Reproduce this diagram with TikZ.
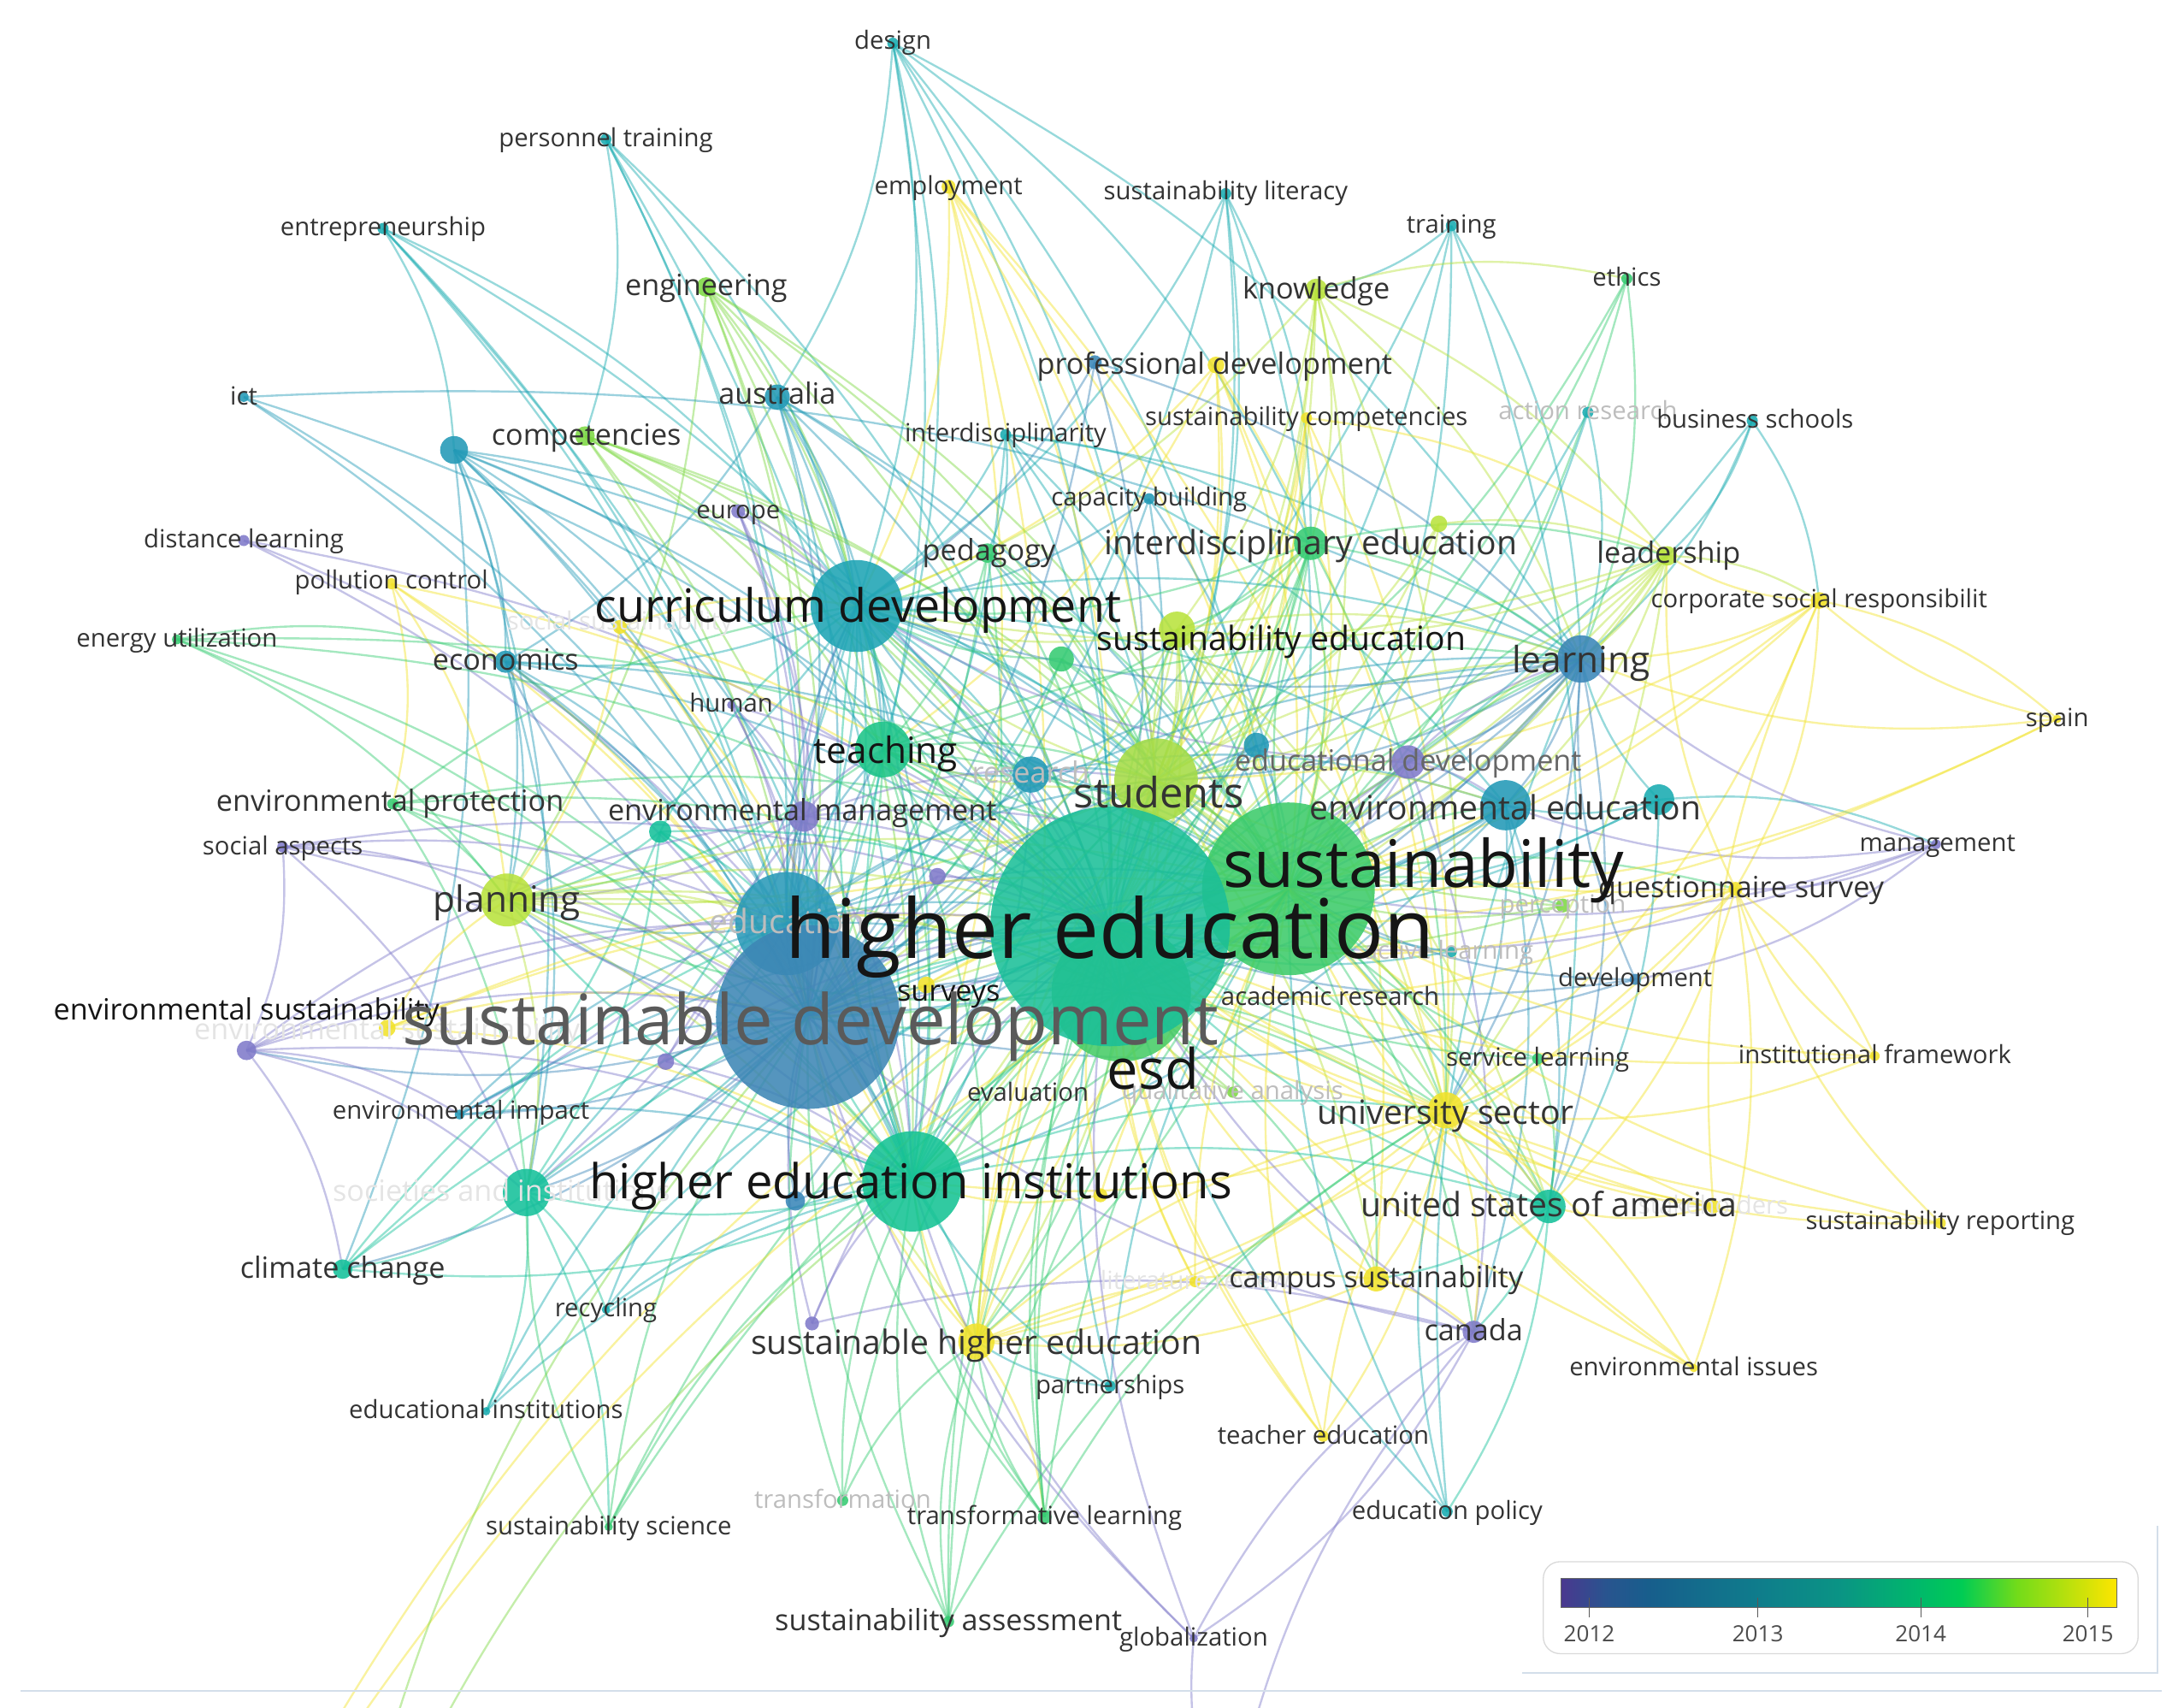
\documentclass[tikz,border=0pt]{standalone}
\usepackage{fontspec}
\setmainfont{Open Sans}
\definecolor{cP}{HTML}{7F7AC9}
\definecolor{cB}{HTML}{3A86B8}
\definecolor{cTB}{HTML}{2299B6}
\definecolor{cT}{HTML}{18ABB0}
\definecolor{cTG}{HTML}{14C09A}
\definecolor{cG}{HTML}{36CB72}
\definecolor{cLG}{HTML}{7DD843}
\definecolor{cYG}{HTML}{B8E23C}
\definecolor{cY}{HTML}{F1E22B}
\definecolor{nTeach}{HTML}{1CC488}
\definecolor{nStu}{HTML}{A5DC46}
\definecolor{nCur}{HTML}{1EA4B4}
\definecolor{nHei}{HTML}{14C394}
\definecolor{nEdu}{HTML}{2A9AB8}
\definecolor{nSd}{HTML}{3D86B5}
\definecolor{nEsd}{HTML}{47CC66}
\definecolor{nSus}{HTML}{3CCB6A}
\definecolor{nHe}{HTML}{1BBF98}
\definecolor{tk}{HTML}{151515}
\definecolor{tD}{HTML}{333333}
\definecolor{tM}{HTML}{666666}
\definecolor{tSD}{HTML}{5A5A5A}
\definecolor{tF}{HTML}{BDBDBD}
\definecolor{tVF}{HTML}{E4E4E4}
\definecolor{frameln}{HTML}{D3DEEA}
\pgfdeclarehorizontalshading{viridisbar}{100bp}{%
rgb(0bp)=(0.29,0.22,0.56);
rgb(25bp)=(0.29,0.22,0.56);
rgb(29bp)=(0.16,0.33,0.56);
rgb(33bp)=(0.09,0.37,0.55);
rgb(42bp)=(0.06,0.48,0.55);
rgb(50bp)=(0.04,0.58,0.52);
rgb(57bp)=(0.0,0.72,0.42);
rgb(61bp)=(0.0,0.80,0.33);
rgb(66bp)=(0.45,0.86,0.10);
rgb(75bp)=(1.0,0.90,0.0);
rgb(100bp)=(1.0,0.90,0.0)}
\newcommand\cn[3]{\foreach \tg in {#3}{\draw[lnk,draw=#2] (#1) to (\tg);}}
\newcommand\kd[3]{\node[circle,inner sep=0pt,minimum size=#3pt,fill=#2,fill opacity=0.88] (#1c) at (#1) {};}
\newcommand\lbl[5]{\node[inner sep=0pt,anchor=base,text=#4,font=\fontsize{#3}{#3}\selectfont,yshift={-0.3*#3pt}] (#1) at (#2) {#5};}
\begin{document}
\begin{tikzpicture}[x=1pt,y=-1pt,lnk/.style={line width=1.45pt,draw opacity=0.45,bend left=14}]
\useasboundingbox (0,0) rectangle (1568,1226);
\clip (0,0) rectangle (1568,1226);
% coordinates
\coordinate (design) at (641,31);
\coordinate (personnel) at (435,100);
\coordinate (employ) at (681,134);
\coordinate (sustlit) at (880,139);
\coordinate (training) at (1042,162);
\coordinate (entrep) at (275,164);
\coordinate (eng) at (507,206);
\coordinate (know) at (945,208);
\coordinate (ethics) at (1168,200);
\coordinate (profdev) at (873,262);
\coordinate (bl786) at (786,260);
\coordinate (ict) at (175,285);
\coordinate (austr) at (558,285);
\coordinate (comp) at (420,313);
\coordinate (un1) at (326,323);
\coordinate (interdisc) at (722,312);
\coordinate (sustcomp) at (938,300);
\coordinate (actres) at (1140,296);
\coordinate (busi) at (1258,302);
\coordinate (capac) at (825,358);
\coordinate (europe) at (530,367);
\coordinate (distance) at (175,388);
\coordinate (pollu) at (281,419);
\coordinate (ped) at (709,397);
\coordinate (interedu) at (941,390);
\coordinate (un2) at (1033,376);
\coordinate (lead) at (1197,399);
\coordinate (csr) at (1306,431);
\coordinate (cur) at (615,435);
\coordinate (energy) at (127,459);
\coordinate (econ) at (363,475);
\coordinate (socx) at (445,450);
\coordinate (susedu) at (845,452);
\coordinate (g762) at (762,473);
\coordinate (human) at (525,506);
\coordinate (learn) at (1135,473);
\coordinate (teach) at (634,538);
\coordinate (res) at (740,556);
\coordinate (educdev) at (1011,547);
\coordinate (stu) at (830,560);
\coordinate (envedu) at (1081,578);
\coordinate (t1191) at (1191,574);
\coordinate (tb902) at (902,535);
\coordinate (envprot) at (282,577);
\coordinate (envm) at (577,586);
\coordinate (tg474) at (474,597);
\coordinate (socasp) at (203,608);
\coordinate (plan) at (364,646);
\coordinate (mgmt) at (1390,606);
\coordinate (sus) at (925,638);
\coordinate (quest) at (1246,638);
\coordinate (percep) at (1122,650);
\coordinate (edu) at (565,663);
\coordinate (p673) at (673,629);
\coordinate (actl) at (1042,683);
\coordinate (devel) at (1174,703);
\coordinate (esd) at (805,712);
\coordinate (he) at (797,665);
\coordinate (sd) at (580,730);
\coordinate (surveys) at (665,707);
\coordinate (envsy) at (278,738);
\coordinate (p177) at (177,754);
\coordinate (p478) at (478,762);
\coordinate (qual) at (885,784);
\coordinate (envimp) at (330,800);
\coordinate (univ) at (1038,797);
\coordinate (servl) at (1104,760);
\coordinate (instf) at (1346,758);
\coordinate (hei) at (655,848);
\coordinate (soc) at (378,856);
\coordinate (b571) at (571,862);
\coordinate (p583) at (583,950);
\coordinate (y790) at (790,858);
\coordinate (usa) at (1112,866);
\coordinate (stake) at (1230,866);
\coordinate (susrep) at (1393,878);
\coordinate (climate) at (246,911);
\coordinate (campus) at (988,918);
\coordinate (litrev) at (858,920);
\coordinate (recyc) at (435,940);
\coordinate (canada) at (1058,956);
\coordinate (shed) at (701,963);
\coordinate (partn) at (797,995);
\coordinate (envis) at (1216,982);
\coordinate (eduinst) at (349,1013);
\coordinate (teached) at (950,1031);
\coordinate (edupol) at (1039,1085);
\coordinate (transfn) at (605,1077);
\coordinate (transfv) at (750,1089);
\coordinate (sussci) at (437,1096);
\coordinate (susass) at (681,1164);
\coordinate (glob) at (857,1176);
\coordinate (spain) at (1477,516);
\coordinate (offa) at (150,1400);
\coordinate (offb) at (240,1400);
\coordinate (offc) at (880,1320);
% edges
\cn{design}{cT}{he,sd,cur,austr,teach,stu,sus,interedu,learn}
\cn{personnel}{cT}{he,sd,cur,edu,hei,comp}
\cn{employ}{cY}{he,sus,stu,cur,hei,shed,univ}
\cn{sustlit}{cT}{he,sus,stu,cur,interedu,sd}
\cn{training}{cT}{he,sus,sd,learn,usa,know}
\cn{entrep}{cT}{he,sd,cur,edu,un1,hei}
\cn{eng}{cLG}{he,sd,sus,cur,stu,teach,hei,edu,plan}
\cn{know}{cYG}{he,sus,stu,susedu,interedu,learn,lead,univ,cur,esd,ethics}
\cn{ethics}{cG}{he,sus,learn,stu}
\cn{profdev}{cY}{he,sus,stu,cur,teach,univ,campus}
\cn{bl786}{cB}{he,sd,cur,learn}
\cn{ict}{cTB}{sd,he,edu,learn}
\cn{austr}{cTB}{he,sd,cur,edu,teach,hei,stu,sus,econ}
\cn{comp}{cLG}{he,sd,sus,cur,teach,stu,esd,hei}
\cn{un1}{cTB}{he,sd,cur,edu,econ,plan,hei,teach,envm,soc,sus,climate}
\cn{interdisc}{cT}{he,sd,sus,cur,stu,interedu,ped,learn,envedu}
\cn{sustcomp}{cY}{he,sus,esd,stu,univ,lead}
\cn{actres}{cT}{he,sus,learn}
\cn{busi}{cT}{lead,csr,learn,he}
\cn{capac}{cTB}{he,sd,sus,cur}
\cn{europe}{cP}{he,sd,cur,edu,envm}
\cn{distance}{cP}{sd,he,edu}
\cn{pollu}{cY}{sd,he,plan,hei,envprot}
\cn{ped}{cG}{he,sd,sus,cur,teach,stu,hei}
\cn{interedu}{cG}{he,sd,sus,cur,stu,teach,learn,esd,univ,hei,susedu,lead}
\cn{un2}{cYG}{he,sus,stu,lead}
\cn{lead}{cYG}{he,sus,stu,csr,envedu,univ,esd,sd,cur,susedu,learn}
\cn{csr}{cY}{he,sus,lead,univ,stu,quest,learn,spain}
\cn{cur}{cT}{he,sd,sus,edu,teach,stu,hei,plan,econ,learn,res,envedu,esd,usa,soc}
\cn{energy}{cG}{sd,he,econ,hei,plan,sus}
\cn{econ}{cTB}{he,sd,edu,plan,hei,soc,sus}
\cn{socx}{cY}{sd,he,cur,hei,plan}
\cn{susedu}{cYG}{he,sus,stu,esd,sd,cur,learn,univ,hei,usa}
\cn{g762}{cG}{he,sus,stu,cur,sd}
\cn{human}{cP}{sd,he,edu,envm}
\cn{learn}{cB}{he,sd,sus,stu,envedu,esd,usa,univ,educdev,cur}
\cn{teach}{cG}{he,sd,sus,stu,hei,esd,edu,plan,learn,univ,shed}
\cn{res}{cTB}{he,sd,sus,stu,hei,teach,cur,edu,envedu,learn}
\cn{educdev}{cP}{he,sd,sus,learn,envedu,canada,cur}
\cn{stu}{cYG}{he,sd,sus,esd,hei,univ,usa,envedu,learn,shed,campus,teach,cur,plan,interedu,susedu}
\cn{envedu}{cTB}{he,sd,sus,usa,esd,univ,canada,hei}
\cn{t1191}{cT}{he,sus,learn,envedu,usa,mgmt}
\cn{tb902}{cTB}{he,sd,sus,stu}
\cn{envprot}{cG}{he,sd,plan,hei,soc,cur,sus}
\cn{envm}{cP}{he,sd,edu,hei,soc,plan,envimp,cur,teach,stu,sus}
\cn{tg474}{cTG}{he,sd,hei,cur,plan,edu,soc,climate}
\cn{socasp}{cP}{sd,he,edu,plan,p177,soc,hei}
\cn{plan}{cYG}{he,sd,sus,hei,soc,edu,esd,univ,shed}
\cn{mgmt}{cP}{he,sus,learn,devel,envedu,quest}
\cn{sus}{cG}{he,sd,esd,hei,univ,usa,campus,shed,quest,percep,canada,cur,stu,teach,learn,envedu,interedu,lead,susedu}
\cn{quest}{cY}{he,univ,usa,lead,stu,esd,shed,envis,instf}
\cn{percep}{cLG}{he,sus,stu}
\cn{edu}{cTB}{he,sd,hei,teach,plan,soc,cur,stu,sus,esd,learn,envm}
\cn{p673}{cP}{he,sd,edu}
\cn{actl}{cT}{he,sus}
\cn{devel}{cB}{he,sus,sd,learn}
\cn{esd}{cG}{he,sd,hei,univ,usa,shed,campus,cur,teach,stu,learn,susedu,plan}
\cn{sd}{cB}{he,hei,soc,climate,envimp,p177,cur,edu,teach,stu,sus,esd,learn,plan,econ,envm}
\cn{surveys}{cY}{he,sd,sus}
\cn{envsy}{cY}{sd,he,hei,plan,sus}
\cn{p177}{cP}{sd,he,hei,soc,envimp,edu,climate,envm}
\cn{p478}{cP}{sd,he,hei,edu}
\cn{qual}{cLG}{he,sus,esd}
\cn{envimp}{cTB}{sd,he,hei,edu}
\cn{univ}{cY}{he,esd,hei,usa,campus,shed,canada,teached,envis}
\cn{servl}{cG}{he,sus,usa,univ}
\cn{instf}{cY}{he,sus,univ,quest}
\cn{hei}{cTG}{he,shed,soc,climate,univ,usa,cur,teach,stu,edu,esd,sus,plan}
\cn{soc}{cTG}{he,climate,eduinst,recyc,sussci}
\cn{b571}{cB}{sd,he,hei}
\cn{p583}{cP}{sd,he,hei,canada}
\cn{y790}{cY}{he,sus,hei}
\cn{usa}{cTG}{he,campus,edupol,canada}
\cn{stake}{cY}{he,sus,univ,usa,csr}
\cn{susrep}{cY}{he,sus,univ,quest}
\cn{climate}{cTG}{he,edu}
\cn{campus}{cY}{he,shed,canada}
\cn{litrev}{cY}{he,sus,esd,shed}
\cn{recyc}{cT}{sd,he,hei}
\cn{canada}{cP}{he,sd,glob}
\cn{shed}{cY}{he,sus,esd,hei,sd,stu,univ,campus,transfv}
\cn{partn}{cT}{he,sus,shed,hei}
\cn{envis}{cY}{he,sus,univ}
\cn{eduinst}{cT}{sd,he,hei}
\cn{teached}{cY}{he,sus,esd,univ}
\cn{edupol}{cT}{he,sus,univ,learn}
\cn{transfn}{cG}{he,sd,hei,shed}
\cn{transfv}{cG}{he,sus,esd,hei,shed,sd,stu,univ}
\cn{sussci}{cG}{he,sd,hei,soc,sus}
\cn{susass}{cG}{he,sus,esd,hei,shed,sd,univ}
\cn{glob}{cP}{he,sd,canada,hei}
\cn{spain}{cY}{he,sus,csr,learn}
\cn{offa}{cY}{he,sus}
\cn{offb}{cLG}{sd,hei}
\cn{offc}{cP}{glob,canada}
% small dots
\kd{design}{cT}{8}\kd{personnel}{cT}{8}\kd{employ}{cY}{10}\kd{sustlit}{cT}{8}
\kd{training}{cT}{8}\kd{entrep}{cT}{8}\kd{eng}{cLG}{14}\kd{know}{cYG}{16}
\kd{ethics}{cG}{8}\kd{profdev}{cY}{12}\kd{bl786}{cB}{10}\kd{ict}{cTB}{7}
\kd{austr}{cTB}{18}\kd{comp}{cLG}{14}\kd{un1}{cTB}{20}\kd{interdisc}{cT}{8}
\kd{sustcomp}{cY}{8}\kd{actres}{cT}{8}\kd{busi}{cT}{8}\kd{capac}{cTB}{8}
\kd{europe}{cP}{10}\kd{distance}{cP}{8}\kd{pollu}{cY}{8}\kd{ped}{cG}{14}
\kd{interedu}{cG}{24}\kd{un2}{cYG}{12}\kd{lead}{cYG}{14}\kd{csr}{cY}{12}
\kd{energy}{cG}{7}\kd{econ}{cTB}{16}\kd{socx}{cY}{10}\kd{susedu}{cYG}{26}
\kd{g762}{cG}{18}\kd{human}{cP}{6}\kd{learn}{cB}{34}\kd{educdev}{cP}{24}
\kd{envedu}{cTB}{36}\kd{t1191}{cT}{22}\kd{tb902}{cTB}{18}\kd{envprot}{cG}{8}
\kd{envm}{cP}{22}\kd{tg474}{cTG}{16}\kd{socasp}{cP}{8}\kd{plan}{cYG}{38}
\kd{mgmt}{cP}{7}\kd{quest}{cY}{10}\kd{percep}{cLG}{10}\kd{p673}{cP}{12}
\kd{actl}{cT}{8}\kd{devel}{cB}{8}\kd{surveys}{cY}{12}\kd{envsy}{cY}{12}
\kd{p177}{cP}{14}\kd{p478}{cP}{12}\kd{qual}{cLG}{8}\kd{envimp}{cTB}{7}
\kd{univ}{cY}{26}\kd{servl}{cG}{8}\kd{instf}{cY}{7}\kd{soc}{cTG}{34}
\kd{b571}{cB}{14}\kd{p583}{cP}{10}\kd{y790}{cY}{10}\kd{usa}{cTG}{24}
\kd{stake}{cY}{10}\kd{susrep}{cY}{8}\kd{climate}{cTG}{14}\kd{campus}{cY}{18}
\kd{litrev}{cY}{8}\kd{recyc}{cT}{6}\kd{canada}{cP}{16}\kd{shed}{cY}{26}
\kd{partn}{cT}{8}\kd{envis}{cY}{6}\kd{eduinst}{cT}{6}\kd{teached}{cY}{8}
\kd{edupol}{cT}{8}\kd{transfn}{cG}{8}\kd{transfv}{cG}{10}\kd{sussci}{cG}{6}
\kd{susass}{cG}{8}\kd{glob}{cP}{6}\kd{spain}{cY}{6}
% big dots
\kd{res}{cTB}{26}
\kd{teach}{nTeach}{40}
\kd{stu}{nStu}{60}
\kd{cur}{nCur}{66}
\kd{hei}{nHei}{72}
\kd{edu}{nEdu}{74}
\kd{sd}{nSd}{132}
\kd{esd}{nEsd}{100}
\kd{sus}{nSus}{124}
\kd{he}{nHe}{172}
% faded labels
\lbl{socxl}{445,447}{18}{tVF}{social sustainability}
\lbl{stakel}{1230,866}{18}{tVF}{stakeholders}
\lbl{litrevl}{858,920}{18}{tVF}{literature review}
\lbl{socl}{360,856}{21}{tVF}{societies and institutions}
\lbl{envsyl}{278,740}{21}{tVF}{environmental sustainability}
\lbl{edul}{565,663}{24}{tF}{education}
\lbl{actresl}{1140,296}{18}{tF}{action research}
\lbl{percepl}{1122,650}{18}{tF}{perception}
\lbl{actll}{1040,683}{18}{tF}{active learning}
\lbl{quall}{885,784}{18}{tF}{qualitative analysis}
\lbl{transfnl}{605,1077}{18}{tF}{transformation}
\lbl{resl}{740,556}{21}{tF}{research}
% small labels
\lbl{designl}{641,30}{18}{tD}{design}
\lbl{personnell}{435,100}{18}{tD}{personnel training}
\lbl{employl}{681,134}{18}{tD}{employment}
\lbl{sustlitl}{880,138}{18}{tD}{sustainability literacy}
\lbl{trainingl}{1042,162}{18}{tD}{training}
\lbl{entrepl}{275,164}{18}{tD}{entrepreneurship}
\lbl{ethicsl}{1168,200}{18}{tD}{ethics}
\lbl{ictl}{175,285}{18}{tD}{ict}
\lbl{interdiscl}{722,312}{18}{tD}{interdisciplinarity}
\lbl{sustcompl}{938,300}{18}{tD}{sustainability competencies}
\lbl{busil}{1260,302}{18}{tD}{business schools}
\lbl{capacl}{825,358}{18}{tD}{capacity building}
\lbl{europel}{530,367}{18}{tD}{europe}
\lbl{distancel}{175,388}{18}{tD}{distance learning}
\lbl{pollul}{281,417}{18}{tD}{pollution control}
\lbl{csrl}{1306,431}{18}{tD}{corporate social responsibilit}
\lbl{energyl}{127,459}{18}{tD}{energy utilization}
\lbl{humanl}{525,506}{18}{tD}{human}
\lbl{spainl}{1477,516}{18}{tD}{spain}
\lbl{socaspl}{203,608}{18}{tD}{social aspects}
\lbl{mgmtl}{1391,606}{18}{tD}{management}
\lbl{devell}{1174,703}{18}{tD}{development}
\lbl{acadl}{955,716}{18}{tD}{academic research}
\lbl{instfl}{1346,758}{18}{tD}{institutional framework}
\lbl{servll}{1104,760}{18}{tD}{service learning}
\lbl{evall}{738,785}{18}{tD}{evaluation}
\lbl{envimpl}{331,798}{18}{tD}{environmental impact}
\lbl{susrepl}{1393,877}{18}{tD}{sustainability reporting}
\lbl{recycl}{435,940}{18}{tD}{recycling}
\lbl{envisl}{1216,982}{18}{tD}{environmental issues}
\lbl{partnl}{797,995}{18}{tD}{partnerships}
\lbl{eduinstl}{349,1013}{18}{tD}{educational institutions}
\lbl{teachedl}{950,1031}{18}{tD}{teacher education}
\lbl{edupoll}{1039,1085}{18}{tD}{education policy}
\lbl{transfvl}{750,1089}{18}{tD}{transformative learning}
\lbl{susscil}{437,1096}{18}{tD}{sustainability science}
\lbl{globl}{857,1176}{18}{tD}{globalization}
% medium labels
\lbl{compl}{421,313}{21}{tD}{competencies}
\lbl{austrl}{558,284}{21}{tD}{australia}
\lbl{engl}{507,206}{21}{tD}{engineering}
\lbl{knowl}{945,208}{21}{tD}{knowledge}
\lbl{profdevl}{872,262}{21}{tD}{professional development}
\lbl{pedl}{710,396}{21}{tD}{pedagogy}
\lbl{leadl}{1198,398}{21}{tD}{leadership}
\lbl{econl}{363,475}{21}{tD}{economics}
\lbl{envprotl}{280,576}{21}{tD}{environmental protection}
\lbl{envml}{576,583}{21}{tD}{environmental management}
\lbl{educdevl}{1011,547}{21}{tM}{educational development}
\lbl{questl}{1250,638}{21}{tD}{questionnaire survey}
\lbl{p177l}{177,726}{21}{tk}{environmental sustainability}
\lbl{climatel}{246,911}{21}{tD}{climate change}
\lbl{campusl}{988,918}{21}{tD}{campus sustainability}
\lbl{canadal}{1058,956}{21}{tD}{canada}
\lbl{susassl}{681,1164}{21}{tD}{sustainability assessment}
\lbl{surveysl}{681,712}{21}{tk}{surveys}
% large labels
\lbl{envedul}{1081,581}{24}{tD}{environmental education}
\lbl{univl}{1038,800}{24}{tD}{university sector}
\lbl{shedl}{701,965}{24}{tD}{sustainable higher education}
\lbl{interedul}{941,391}{24}{tD}{interdisciplinary education}
\lbl{susedul}{920,460}{24}{tk}{sustainability education}
\lbl{usal}{1112,866}{24}{tD}{united states of america}
\lbl{teachl}{636,540}{26}{tk}{teaching}
\lbl{planl}{364,647}{26}{tD}{planning}
\lbl{learnl}{1135,475}{26}{tD}{learning}
\lbl{stul}{832,571}{30}{tD}{students}
\lbl{curl}{616,437}{33}{tk}{curriculum development}
\lbl{heil}{654,850}{34.5}{tk}{higher education institutions}
\lbl{esdl}{828,770}{40}{tk}{esd}
\lbl{susl}{1022,623}{47}{tk}{sustainability}
\lbl{sdl}{582,735}{50}{tSD}{sustainable development}
\lbl{hel}{797,670}{59}{tk}{higher education}
% legend
\draw[frameln,line width=1.2pt] (15,1214) -- (1552,1214);
\draw[frameln,line width=1pt] (1093,1201) -- (1549,1201) -- (1549,1095);
\node[draw=black!15,line width=0.8pt,rounded corners=12pt,minimum width=427pt,minimum height=66pt,inner sep=0pt,fill=white] (cbframe) at (1321.5,1154) {};
\node[shade,shading=viridisbar,draw=black!60,line width=0.6pt,minimum width=399pt,minimum height=21pt,inner sep=0pt] (cbar) at (1320.5,1143.5) {};
\foreach \xx/\yr in {1141/2012,1262/2013,1379/2014,1499/2015}{
  \draw[black!65,line width=0.7pt] (\xx,1147) -- (\xx,1161);
  \node[text=black!70,font=\fontsize{16}{16}\selectfont,inner sep=0pt] (yr\yr) at (\xx,1173) {\yr};
}
\end{tikzpicture}
\end{document}
